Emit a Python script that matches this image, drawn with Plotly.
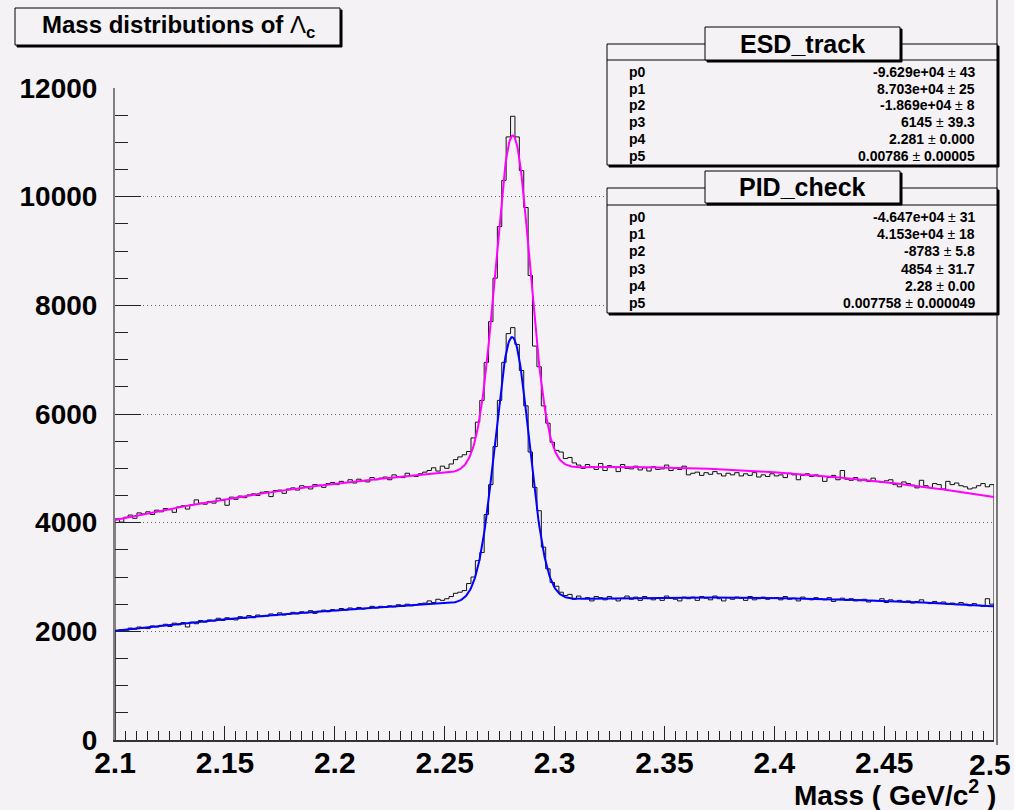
import numpy as np
import plotly.graph_objects as go

# ---------------- data ----------------
mass_low, mass_high, n_bins = 2.1, 2.5, 200

esd_counts = [
    4070, 4010, 4100, 4140, 4080, 4180, 4160, 4200, 4150, 4230,
    4200, 4260, 4240, 4190, 4290, 4310, 4250, 4330, 4420, 4360,
    4340, 4390, 4360, 4450, 4410, 4320, 4470, 4430, 4490, 4460,
    4510, 4530, 4500, 4560, 4570, 4480, 4590, 4600, 4540, 4620,
    4640, 4600, 4680, 4660, 4620, 4700, 4690, 4650, 4720, 4740,
    4700, 4760, 4740, 4790, 4730, 4800, 4770, 4750, 4830, 4790,
    4820, 4840, 4790, 4880, 4850, 4830, 4910, 4870, 4850, 4900,
    4930, 4960, 5010, 4950, 5040, 5000, 5080, 5160, 5210, 5250,
    5310, 5560, 5850, 6250, 6950, 7700, 8500, 9450, 10300, 11100,
    11480, 11100, 10480, 9800, 8550, 7250, 6870, 6150, 5830, 5480,
    5330, 5300, 5180, 5200, 5100, 5060, 5000, 5070, 5030, 4980,
    5090, 4960, 5050, 5020, 4940, 5070, 5000, 4990, 5040, 4970,
    5010, 4950, 5030, 4980, 4990, 5060, 4960, 5000, 4980, 5040,
    4880, 4910, 4930, 4870, 4920, 4890, 4940, 4900, 4860, 4910,
    4880, 4920, 4860, 4900, 4870, 4920, 4840, 4880, 4850, 4900,
    4860, 4880, 4830, 4910, 4880, 4790, 4870, 4900, 4850, 4880,
    4850, 4760, 4830, 4870, 4790, 4960, 4800, 4780, 4830, 4770,
    4800, 4760, 4820, 4760, 4740, 4770, 4790, 4700, 4660, 4750,
    4720, 4690, 4640, 4780, 4680, 4650, 4720, 4700, 4620, 4760,
    4700, 4730, 4680, 4660, 4620, 4640, 4680, 4720, 4660, 4700,
]

pid_counts = [
    2000, 2030, 2010, 2060, 2040, 2080, 2060, 2050, 2100, 2080,
    2110, 2130, 2090, 2150, 2120, 2160, 2080, 2170, 2140, 2200,
    2170, 2210, 2190, 2240, 2200, 2250, 2220, 2210, 2270, 2240,
    2290, 2250, 2300, 2270, 2280, 2320, 2290, 2340, 2300, 2310,
    2350, 2320, 2360, 2340, 2380, 2330, 2370, 2390, 2360, 2400,
    2380, 2420, 2390, 2430, 2400, 2440, 2410, 2420, 2460, 2430,
    2460, 2440, 2470, 2450, 2490, 2460, 2500, 2470, 2490, 2510,
    2520, 2560, 2530, 2590, 2570, 2600, 2640, 2700, 2720, 2750,
    2880, 3000, 3300, 3450, 4150, 4700, 5400, 6250, 6950, 7480,
    7590, 7280, 6800, 6150, 5300, 4650, 4220, 3550, 3150, 2900,
    2830, 2720, 2660, 2680, 2590, 2650, 2600, 2620, 2560, 2640,
    2620, 2580, 2640, 2600, 2560, 2610, 2650, 2590, 2630, 2570,
    2640, 2600, 2580, 2620, 2570, 2650, 2610, 2590, 2560, 2630,
    2600, 2630, 2570, 2640, 2610, 2580, 2650, 2600, 2560, 2620,
    2590, 2630, 2610, 2570, 2640, 2580, 2600, 2630, 2590, 2610,
    2620, 2580, 2640, 2590, 2610, 2560, 2630, 2600, 2580, 2620,
    2600, 2580, 2620, 2550, 2590, 2610, 2570, 2600, 2560, 2580,
    2590, 2540, 2570, 2560, 2600, 2530, 2580, 2550, 2570, 2540,
    2560, 2520, 2550, 2580, 2530, 2510, 2550, 2520, 2540, 2500,
    2520, 2490, 2530, 2500, 2470, 2510, 2480, 2460, 2600, 2500,
]

# fit parameters (pol2 + gaus): p0, p1, p2, p3, p4, p5
esd_fit_params = [-9.629e4, 8.703e4, -1.869e4, 6145, 2.281, 0.00786]
pid_fit_params = [-4.647e4, 4.153e4, -8783, 4854, 2.2807, 0.007758]

param_names = ["p0", "p1", "p2", "p3", "p4", "p5"]
esd_values = ["-9.629e+04", "8.703e+04", "-1.869e+04", "6145", "2.281", "0.00786"]
esd_errors = ["43", "25", "8", "39.3", "0.000", "0.00005"]
pid_values = ["-4.647e+04", "4.153e+04", "-8783", "4854", "2.28", "0.007758"]
pid_errors = ["31", "18", "5.8", "31.7", "0.00", "0.000049"]

x_tickvals = [2.1, 2.15, 2.2, 2.25, 2.3, 2.35, 2.4, 2.45, 2.5]
x_ticktext = ["2.1", "2.15", "2.2", "2.25", "2.3", "2.35", "2.4", "2.45", "2.5"]
y_tickvals = [0, 2000, 4000, 6000, 8000, 10000, 12000]
y_ticktext = ["0", "2000", "4000", "6000", "8000", "10000", "12000"]

# ---------------- styling ----------------
BG = "#f5f2f5"
FONT = "Liberation Sans, Arial, sans-serif"
W, H = 1014, 810
L, R, T, B = 115, 20, 88, 70
PW, PH = W - L - R, H - T - B


def px(x):
    return (x - L) / PW


def py(y):
    return (H - B - y) / PH


edges = np.linspace(mass_low, mass_high, n_bins + 1)


def hist_xy(counts):
    xs = [edges[0]] + list(edges[:-1]) + [edges[-1], edges[-1]]
    ys = [0] + list(counts) + [counts[-1], 0]
    return xs, ys


def fit_fn(x, p):
    return p[0] + p[1] * x + p[2] * x ** 2 + p[3] * np.exp(-0.5 * ((x - p[4]) / p[5]) ** 2)


xf = np.linspace(mass_low, mass_high, 1201)

fig = go.Figure()
for counts in (esd_counts, pid_counts):
    hx, hy = hist_xy(counts)
    fig.add_trace(go.Scatter(x=hx, y=hy, mode="lines", line=dict(color="#111111", width=1, shape="hv"),
                             hoverinfo="skip"))
fig.add_trace(go.Scatter(x=xf, y=fit_fn(xf, esd_fit_params), mode="lines",
                         line=dict(color="#ff00ff", width=2)))
fig.add_trace(go.Scatter(x=xf, y=fit_fn(xf, pid_fit_params), mode="lines",
                         line=dict(color="#0000ff", width=2)))

shapes = []
annotations = []


def box(x0, y0, x1, y1, shadow=3):
    shapes.append(dict(type="rect", xref="paper", yref="paper", x0=px(x0 + shadow), x1=px(x1 + shadow),
                       y0=py(y1 + shadow), y1=py(y0 + shadow), fillcolor="#000000",
                       line=dict(color="#000000", width=1), layer="above"))
    shapes.append(dict(type="rect", xref="paper", yref="paper", x0=px(x0), x1=px(x1),
                       y0=py(y1), y1=py(y0), fillcolor=BG,
                       line=dict(color="#000000", width=1), layer="above"))


def hline(x0, x1, y):
    shapes.append(dict(type="line", xref="paper", yref="paper", x0=px(x0), x1=px(x1),
                       y0=py(y), y1=py(y), line=dict(color="#000000", width=1), layer="above"))


def text(x, y, s, size, xanchor="center", bold=False):
    annotations.append(dict(xref="paper", yref="paper", x=px(x), y=py(y), text=s, showarrow=False,
                            xanchor=xanchor, yanchor="middle",
                            font=dict(family=FONT, size=size, color="#000000",
                                      weight="bold" if bold else "normal")))


# right border line of the pad
shapes.append(dict(type="line", xref="paper", yref="paper", x0=px(997), x1=px(997), y0=py(745), y1=py(0),
                   line=dict(color="#000000", width=1), layer="above"))

# title box
box(15, 8, 340, 45, shadow=2)
text(178, 27, "<b>Mass distributions of </b>Λ<sub><b>c</b></sub>", 24)

# stat boxes
for (y_box0, y_box1, y_hdr0, y_hdr1, y_sep, row0, dy, name, vals, errs) in [
    (44, 165, 27, 60, 60, 72, 16.7, "ESD_track", esd_values, esd_errors),
    (188, 313, 171, 203, 205, 217, 17.2, "PID_check", pid_values, pid_errors),
]:
    box(607, y_box0, 997, y_box1, shadow=2)
    hline(607, 997, y_sep)
    box(705, y_hdr0, 900, y_hdr1, shadow=2)
    text(802, (y_hdr0 + y_hdr1) / 2, name, 25, bold=True)
    for k, (n, v, e) in enumerate(zip(param_names, vals, errs)):
        yy = row0 + k * dy
        text(627, yy, n, 14, xanchor="left", bold=True)
        text(977, yy, f"<b>{v}</b> ± <b>{e}</b>", 14, xanchor="right")

# last x tick label sits at the very edge of the canvas: keep it inside the page
annotations.append(dict(xref="paper", yref="paper", x=px(1013), y=py(764), text=x_ticktext[-1],
                        showarrow=False, xanchor="right", yanchor="middle",
                        font=dict(family=FONT, size=30, color="#000000", weight="bold")))

# x axis title
text(998, 793, "<b>Mass ( GeV/c<sup>2</sup> )</b>", 28, xanchor="right")

fig.update_layout(
    width=W, height=H, margin=dict(l=L, r=R, t=T, b=B, pad=0),
    paper_bgcolor=BG, plot_bgcolor=BG, showlegend=False,
    shapes=shapes, annotations=annotations,
    xaxis=dict(range=[mass_low, mass_high], tickmode="array", tickvals=x_tickvals[:-1],
               ticktext=x_ticktext[:-1],
               ticks="inside", ticklen=14, tickwidth=1, tickcolor="#222222",
               showline=True, linecolor="#333333", linewidth=1.5, showgrid=False, zeroline=False,
               tickfont=dict(family=FONT, size=30, color="#000000", weight="bold"),
               ticklabelstandoff=-5,
               minor=dict(tickmode="linear", tick0=mass_low, dtick=0.005, ticks="inside", ticklen=9,
                          tickcolor="#222222", showgrid=False)),
    yaxis=dict(range=[0, 12000], tickmode="array", tickvals=y_tickvals, ticktext=y_ticktext,
               ticks="inside", ticklen=26, tickwidth=1, tickcolor="#222222",
               showline=True, linecolor="#808080", linewidth=2, zeroline=False,
               showgrid=True, gridcolor="#666666", gridwidth=1, griddash="1px,3px",
               tickfont=dict(family=FONT, size=28, color="#000000", weight="bold"),
               ticklabelstandoff=10,
               minor=dict(tickmode="linear", tick0=0, dtick=500, ticks="inside", ticklen=13,
                          tickcolor="#222222", showgrid=False)),
)

fig.write_html("out.html", config={"displayModeBar": False},
               post_script="document.body.style.margin='0';")
